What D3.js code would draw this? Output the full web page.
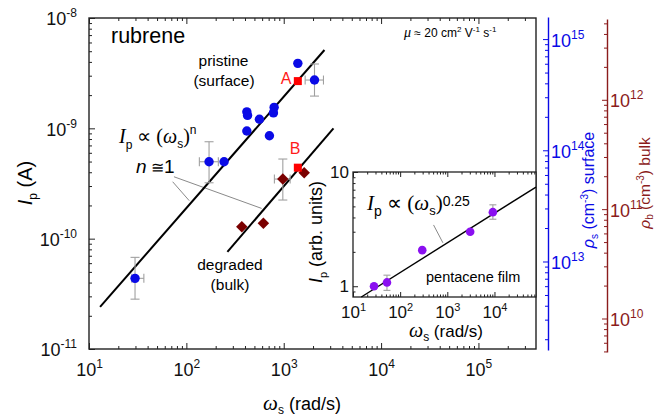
<!DOCTYPE html>
<html>
<head>
<meta charset="utf-8">
<script src="https://cdn.jsdelivr.net/npm/d3@7"></script>
<style>
  body { margin: 0; background: #fff; }
  svg { display: block; }
</style>
</head>
<body>
<div id="chart"></div>
<script>
// rubrene, pristine (surface) points: omega_s (rad/s) and I_p (A)
const surfW = [1396, 2070, 418, 425, 563, 797, 784, 418, 713, 171, 244, 29.7];
const surfI = [3.88e-9, 2.74e-9, 1.41e-9, 1.31e-9, 1.21e-9, 1.55e-9, 1.38e-9, 9.45e-10, 8.57e-10, 4.98e-10, 4.98e-10, 4.37e-11];
// degraded (bulk) points
const bulkW = [979, 1622, 371, 618];
const bulkI = [3.47e-10, 3.96e-10, 1.28e-10, 1.38e-10];
// marked points A and B
const markW = [1396, 1396];
const markI = [2.68e-9, 4.40e-10];
const markNames = ["A", "B"];
// error bars: [omega, I, omegaLo, omegaHi, ILo, IHi]
const surfErr = [
  [2070, 2.74e-9, 1660, 2560, 1.96e-9, 3.83e-9],
  [171, 4.98e-10, 136, 213, 3.21e-10, 7.56e-10],
  [29.7, 4.37e-11, 27.5, 36.6, 2.83e-11, 6.77e-11]
];
const bulkErr = [[979, 3.47e-10, 802, 1164, 2.24e-10, 5.27e-10]];
// fitted I_p ~ omega^n lines (end points)
const fitSurfW = [13.0, 2620];
const fitSurfI = [2.41e-11, 5.13e-9];
const fitBulkW = [264, 3243];
const fitBulkI = [7.6e-11, 1.0e-9];
// pointer lines from the "n = 1" label
const pointerW = [[72.3, 107], [74.6, 593]];
const pointerI = [[3.28e-10, 2.21e-10], [3.64e-10, 1.88e-10]];

// inset: pentacene film
const penW = [27.9, 52.5, 294, 3055, 9250];
const penI = [1.0, 1.08, 2.07, 3.0, 4.45];
const penErr = [[52.5, 1.08, null, null, 0.92, 1.25], [9250, 4.45, null, null, 3.86, 5.16]];
const fitPenW = [15, 7.59e4];
const fitPenI = [0.805, 7.38];
const penPointerW = [511, 807];
const penPointerI = [3.44, 2.40];

// axis extents
const xDom = [10, 3.9e5];
const yDom = [1e-11, 1e-8];
const ixDom = [10, 7.6e4];
const iyDom = [0.805, 10];
const surfRhoDom = [1.6e12, 1.58e15];
const bulkRhoDom = [4.94e9, 5.48e12];

const SANS = "Arial, 'Liberation Sans', sans-serif";
const SERIF = "'Times New Roman', 'Liberation Serif', serif";
const BLUE = "#0a0ae6";
const DARKRED = "#8b1c1c";
const MAROON = "#7a0000";
const VIOLET = "#8a10f0";
const ERR = "#a0a0a0";

const W = 658, H = 418;
const main = { l: 89, t: 18, r: 536, b: 349 };
const inset = { l: 353, t: 172, r: 536, b: 297 };

const svg = d3.select("#chart").append("svg")
  .attr("width", W).attr("height", H)
  .attr("font-family", SANS);

const x = d3.scaleLog().domain(xDom).range([main.l, main.r]);
const y = d3.scaleLog().domain(yDom).range([main.b, main.t]);
const ix = d3.scaleLog().domain(ixDom).range([inset.l, inset.r]);
const iy = d3.scaleLog().domain(iyDom).range([inset.b, inset.t]);
const ys = d3.scaleLog().domain(surfRhoDom).range([350, 17]);
const yb = d3.scaleLog().domain(bulkRhoDom).range([352, 19]);

function splitTicks(scale) {
  const all = scale.ticks();
  const isMajor = (v) => Math.abs(Math.log10(v) - Math.round(Math.log10(v))) < 1e-9;
  return { major: all.filter(isMajor), minor: all.filter((v) => !isMajor(v)) };
}

function pow10(sel, supSize, rise) {
  sel.each(function (d) {
    const t = d3.select(this).text(null);
    t.append("tspan").text("10");
    t.append("tspan").attr("font-size", supSize).attr("dy", -rise)
      .text(Math.round(Math.log10(d)));
  });
}

function rich(sel, parts) {
  parts.forEach((p) => {
    const ts = sel.append("tspan").text(p.t);
    if (p.dy) ts.attr("dy", p.dy);
    if (p.size) ts.attr("font-size", p.size);
    if (p.it) ts.attr("font-style", "italic");
    if (p.ff) ts.attr("font-family", p.ff);
  });
  return sel;
}

// draw a log axis with long major and short minor ticks
function logAxis(parent, make, scale, big, small, pad, color) {
  const t = splitTicks(scale);
  const g = parent.append("g");
  g.append("g").call(make(scale).tickValues(t.minor).tickSize(small).tickSizeOuter(0).tickFormat(""));
  const gm = g.append("g").call(make(scale).tickValues(t.major).tickSize(big).tickSizeOuter(0).tickPadding(pad));
  g.selectAll("g").attr("font-family", SANS).attr("color", color);
  g.selectAll(".tick line").attr("stroke-width", 1);
  return { g, labels: gm.selectAll("text") };
}

// ---------- main panel ----------
const gMain = svg.append("g");

let ax = logAxis(gMain.append("g").attr("transform", `translate(0,${main.b})`), d3.axisBottom, x, -6, -3, 14, "#222");
ax.g.selectAll(".domain").remove();
ax.labels.attr("font-size", 18).attr("fill", "#111").call(pow10, 12, 8);

ax = logAxis(gMain.append("g").attr("transform", `translate(0,${main.t})`), d3.axisTop, x, -6, -3, 3, "#222");
ax.g.selectAll(".domain").remove();
ax.labels.remove();

ax = logAxis(gMain.append("g").attr("transform", `translate(${main.l},0)`), d3.axisLeft, y, -6, -3, 12, "#222");
ax.g.selectAll(".domain").remove();
ax.labels.attr("font-size", 18).attr("fill", "#111").attr("dy", "0.38em").call(pow10, 12, 8);

gMain.append("rect")
  .attr("x", main.l).attr("y", main.t)
  .attr("width", main.r - main.l).attr("height", main.b - main.t)
  .attr("fill", "none").attr("stroke", "#222").attr("stroke-width", 1.4);

// right axes: surface and bulk carrier densities
ax = logAxis(svg.append("g").attr("transform", "translate(548,0)"), d3.axisRight, ys, -5, -3, 3, BLUE);
ax.g.selectAll(".domain").attr("stroke-width", 1.4);
ax.g.select("g").select(".domain").remove();
ax.labels.attr("font-size", 18).attr("fill", BLUE).attr("dy", "0.4em").call(pow10, 12, 8);

ax = logAxis(svg.append("g").attr("transform", "translate(607,0)"), d3.axisRight, yb, -5, -3, 3, DARKRED);
ax.g.selectAll(".domain").attr("stroke-width", 1.4);
ax.g.select("g").select(".domain").remove();
ax.labels.attr("font-size", 18).attr("fill", DARKRED).attr("dy", "0.4em").call(pow10, 12, 8);

const line = (sx, sy) => d3.line().x((d) => sx(d[0])).y((d) => sy(d[1]));

// pointer lines
pointerW.forEach((ws, i) => {
  gMain.append("path").datum(d3.zip(ws, pointerI[i]))
    .attr("d", line(x, y)).attr("fill", "none")
    .attr("stroke", "#8a8a8a").attr("stroke-width", 1);
});

// fits
[[fitSurfW, fitSurfI], [fitBulkW, fitBulkI]].forEach(([ws, is]) => {
  gMain.append("path").datum(d3.zip(ws, is))
    .attr("d", line(x, y)).attr("fill", "none")
    .attr("stroke", "#000").attr("stroke-width", 2);
});

function errorBars(g, sx, sy, rows, cap) {
  const c = g.append("g").attr("stroke", ERR).attr("stroke-width", 1.1);
  c.selectAll("line.v").data(rows).join("line")
    .attr("x1", (d) => sx(d[0])).attr("x2", (d) => sx(d[0]))
    .attr("y1", (d) => sy(d[4])).attr("y2", (d) => sy(d[5]));
  c.selectAll("line.cl").data(rows.flatMap((d) => [[d[0], d[4]], [d[0], d[5]]])).join("line")
    .attr("x1", (d) => sx(d[0]) - cap).attr("x2", (d) => sx(d[0]) + cap)
    .attr("y1", (d) => sy(d[1])).attr("y2", (d) => sy(d[1]));
  const hx = rows.filter((d) => d[2] != null);
  c.selectAll("line.h").data(hx).join("line")
    .attr("x1", (d) => sx(d[2])).attr("x2", (d) => sx(d[3]))
    .attr("y1", (d) => sy(d[1])).attr("y2", (d) => sy(d[1]));
  c.selectAll("line.ch").data(hx.flatMap((d) => [[d[2], d[1]], [d[3], d[1]]])).join("line")
    .attr("x1", (d) => sx(d[0])).attr("x2", (d) => sx(d[0]))
    .attr("y1", (d) => sy(d[1]) - cap).attr("y2", (d) => sy(d[1]) + cap);
}

errorBars(gMain, x, y, surfErr.concat(bulkErr), 4.5);

gMain.append("g").selectAll("circle").data(d3.zip(surfW, surfI)).join("circle")
  .attr("cx", (d) => x(d[0])).attr("cy", (d) => y(d[1])).attr("r", 4.7)
  .attr("fill", BLUE);

const diamond = d3.symbol(d3.symbolSquare, 66);
gMain.append("g").selectAll("path").data(d3.zip(bulkW, bulkI)).join("path")
  .attr("d", diamond)
  .attr("transform", (d) => `translate(${x(d[0])},${y(d[1])}) rotate(45)`)
  .attr("fill", MAROON);

gMain.append("g").selectAll("rect").data(d3.zip(markW, markI)).join("rect")
  .attr("x", (d) => x(d[0]) - 4).attr("y", (d) => y(d[1]) - 4)
  .attr("width", 8).attr("height", 8).attr("fill", "#ff0000");

gMain.append("g").selectAll("text").data(d3.zip(markW, markI, markNames)).join("text")
  .attr("x", (d, i) => x(d[0]) + (i === 0 ? -17 : -8))
  .attr("y", (d, i) => y(d[1]) + (i === 0 ? 2.5 : -14))
  .attr("font-size", 16).attr("fill", "#ff1a1a").text((d) => d[2]);

// main labels
gMain.append("text").attr("x", 111).attr("y", 43).attr("font-size", 21.5).text("rubrene");
gMain.append("text").attr("x", 223.5).attr("y", 66).attr("font-size", 15.5)
  .attr("text-anchor", "middle").text("pristine");
gMain.append("text").attr("x", 224).attr("y", 86).attr("font-size", 15.5)
  .attr("text-anchor", "middle").text("(surface)");
gMain.append("text").attr("x", 230).attr("y", 270).attr("font-size", 15.5)
  .attr("text-anchor", "middle").text("degraded");
gMain.append("text").attr("x", 230).attr("y", 290).attr("font-size", 15.5)
  .attr("text-anchor", "middle").text("(bulk)");

rich(gMain.append("text").attr("x", 404).attr("y", 37).attr("font-size", 12), [
  { t: "μ", it: true, ff: SERIF, size: 14 },
  { t: " ≈ 20 cm", size: 12 },
  { t: "2", size: 8, dy: -5 },
  { t: " V", size: 12, dy: 5 },
  { t: "-1", size: 8, dy: -5 },
  { t: " s", size: 12, dy: 5 },
  { t: "-1", size: 8, dy: -5 }
]);

rich(gMain.append("text").attr("x", 119).attr("y", 143).attr("font-size", 20).attr("font-family", SERIF), [
  { t: "I", it: true },
  { t: "p", ff: SANS, size: 12, dy: 6 },
  { t: " ∝ (", dy: -6 },
  { t: "ω", it: true },
  { t: "s", ff: SANS, size: 12, dy: 5 },
  { t: ")", dy: -5 },
  { t: "n", ff: SANS, size: 12, dy: -9 }
]);

rich(gMain.append("text").attr("x", 136).attr("y", 173).attr("font-size", 19), [
  { t: "n", it: true },
  { t: " ≅", size: 16 },
  { t: "1" }
]);

// axis titles
rich(svg.append("text").attr("transform", "translate(32,183) rotate(-90)")
  .attr("text-anchor", "middle").attr("font-size", 20), [
  { t: "I", it: true },
  { t: "p", size: 12, dy: 5 },
  { t: " (A)", dy: -5 }
]);

rich(svg.append("text").attr("x", 302).attr("y", 410)
  .attr("text-anchor", "middle").attr("font-size", 18), [
  { t: "ω", it: true, ff: SERIF, size: 21 },
  { t: "s", size: 12, dy: 4 },
  { t: " (rad/s)", dy: -4 }
]);

rich(svg.append("text").attr("transform", "translate(594,190) rotate(-90)")
  .attr("text-anchor", "middle").attr("font-size", 16).attr("fill", BLUE), [
  { t: "ρ", it: true },
  { t: "s", size: 10, dy: 4 },
  { t: " (cm", dy: -4 },
  { t: "-3", size: 10, dy: -6 },
  { t: ")  surface", dy: 6 }
]);

rich(svg.append("text").attr("transform", "translate(650,183) rotate(-90)")
  .attr("text-anchor", "middle").attr("font-size", 15.5).attr("fill", DARKRED), [
  { t: "ρ", it: true },
  { t: "b", size: 10, dy: 3 },
  { t: " (cm", dy: -3 },
  { t: "-3", size: 10, dy: -6 },
  { t: ")  bulk", dy: 6 }
]);

// ---------- inset ----------
const gIn = svg.append("g");
gIn.append("rect")
  .attr("x", inset.l).attr("y", inset.t)
  .attr("width", inset.r - inset.l).attr("height", inset.b - inset.t)
  .attr("fill", "#fff");

ax = logAxis(gIn.append("g").attr("transform", `translate(0,${inset.b})`), d3.axisBottom, ix, -5, -2.5, 9, "#222");
ax.g.selectAll(".domain").remove();
ax.labels.attr("font-size", 17).attr("fill", "#111").call(pow10, 11, 7);

ax = logAxis(gIn.append("g").attr("transform", `translate(0,${inset.t})`), d3.axisTop, ix, -5, -2.5, 3, "#222");
ax.g.selectAll(".domain").remove();
ax.labels.remove();

ax = logAxis(gIn.append("g").attr("transform", `translate(${inset.l},0)`), d3.axisLeft, iy, -5, -2.5, 4, "#222");
ax.g.selectAll(".domain").remove();
ax.labels.attr("font-size", 17).attr("fill", "#111").attr("dy", "0.32em").text((d) => d3.format("~g")(d));

gIn.append("rect")
  .attr("x", inset.l).attr("y", inset.t)
  .attr("width", inset.r - inset.l).attr("height", inset.b - inset.t)
  .attr("fill", "none").attr("stroke", "#222").attr("stroke-width", 1.3);

gIn.append("path").datum(d3.zip(penPointerW, penPointerI))
  .attr("d", line(ix, iy)).attr("fill", "none")
  .attr("stroke", "#8a8a8a").attr("stroke-width", 1);

gIn.append("path").datum(d3.zip(fitPenW, fitPenI))
  .attr("d", line(ix, iy)).attr("fill", "none")
  .attr("stroke", "#000").attr("stroke-width", 1.4);

errorBars(gIn, ix, iy, penErr, 3.5);

gIn.append("g").selectAll("circle").data(d3.zip(penW, penI)).join("circle")
  .attr("cx", (d) => ix(d[0])).attr("cy", (d) => iy(d[1])).attr("r", 4.3)
  .attr("fill", VIOLET);

gIn.append("text").attr("x", 426).attr("y", 282).attr("font-size", 14.5).text("pentacene film");

rich(gIn.append("text").attr("x", 367).attr("y", 210).attr("font-size", 21).attr("font-family", SERIF), [
  { t: "I", it: true },
  { t: "p", ff: SANS, size: 14, dy: 6 },
  { t: " ∝ (", dy: -6 },
  { t: "ω", it: true },
  { t: "s", ff: SANS, size: 13, dy: 5 },
  { t: ")", dy: -5 },
  { t: "0.25", ff: SANS, size: 14, dy: -4 }
]);

rich(svg.append("text").attr("x", 446).attr("y", 337)
  .attr("text-anchor", "middle").attr("font-size", 17), [
  { t: "ω", it: true, ff: SERIF, size: 20 },
  { t: "s", size: 12, dy: 4 },
  { t: " (rad/s)", dy: -4 }
]);

rich(svg.append("text").attr("transform", "translate(322,232) rotate(-90)")
  .attr("text-anchor", "middle").attr("font-size", 18), [
  { t: "I", it: true },
  { t: "p", size: 11, dy: 5 },
  { t: " (arb. units)", dy: -5 }
]);
</script>
</body>
</html>
